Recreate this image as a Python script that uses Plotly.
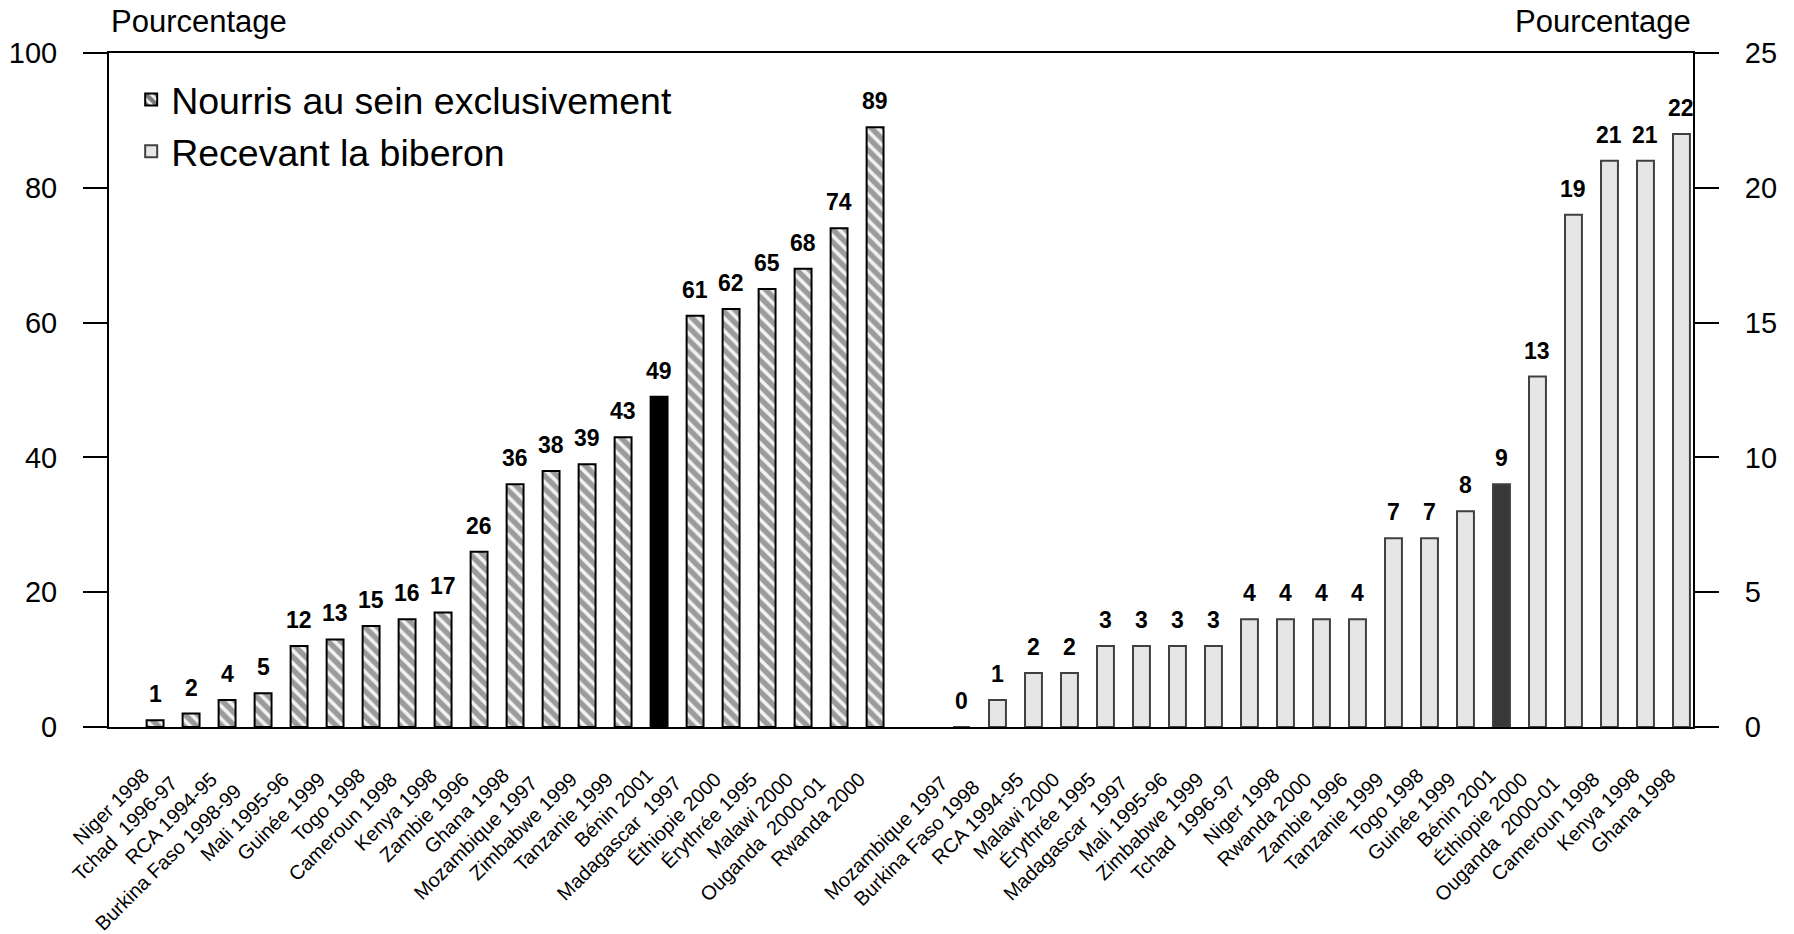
import plotly.graph_objects as go

# Exclusive breastfeeding, by survey (left axis, %)
sein_pays = [
    "Niger 1998", "Tchad  1996-97", "RCA 1994-95", "Burkina Faso 1998-99",
    "Mali 1995-96", "Guinée 1999", "Togo 1998", "Cameroun 1998", "Kenya 1998",
    "Zambie 1996", "Ghana 1998", "Mozambique 1997", "Zimbabwe 1999",
    "Tanzanie 1999", "Bénin 2001", "Madagascar  1997", "Éthiopie 2000",
    "Érythrée 1995", "Malawi 2000", "Ouganda  2000-01", "Rwanda 2000",
]
sein_valeurs = [1, 2, 4, 5, 12, 13, 15, 16, 17, 26, 36, 38, 39, 43, 49,
                61, 62, 65, 68, 74, 89]

# Bottle feeding, by survey (right axis, %)
biberon_pays = [
    "Mozambique 1997", "Burkina Faso 1998", "RCA 1994-95", "Malawi 2000",
    "Érythrée 1995", "Madagascar  1997", "Mali 1995-96", "Zimbabwe 1999",
    "Tchad  1996-97", "Niger 1998", "Rwanda 2000", "Zambie 1996",
    "Tanzanie 1999", "Togo 1998", "Guinée 1999", "Bénin 2001",
    "Éthiopie 2000", "Ouganda  2000-01", "Cameroun 1998", "Kenya 1998",
    "Ghana 1998",
]
biberon_valeurs = [0, 1, 2, 2, 3, 3, 3, 3, 4, 4, 4, 4, 7, 7, 8, 9, 13, 19,
                   21, 21, 22]

pays_mis_en_avant = "Bénin 2001"

# Slot positions: the second group starts after a gap
decalage_groupe = 22.4
x_sein = [i for i in range(len(sein_pays))]
x_biberon = [decalage_groupe + j for j in range(len(biberon_pays))]

FONT = "Liberation Sans, Arial, sans-serif"


def etiquette(texte):
    # Slanted labels hang a little lower the longer they are
    return texte + "\u00a0" * round(len(texte) / 3)


sein_fond = ["black" if p == pays_mis_en_avant else "#f2f2f2" for p in sein_pays]
sein_motif = ["" if p == pays_mis_en_avant else "\\" for p in sein_pays]
biberon_fond = ["#383838" if p == pays_mis_en_avant else "#e6e6e6" for p in biberon_pays]

fig = go.Figure()

fig.add_trace(go.Bar(
    x=x_sein, y=sein_valeurs, width=0.47,
    name="Nourris au sein exclusivement",
    marker=dict(
        color=sein_fond,
        line=dict(color="black", width=2),
        pattern=dict(shape=sein_motif, fgcolor="black", size=9, solidity=0.6),
    ),
    yaxis="y",
))

fig.add_trace(go.Bar(
    x=x_biberon, y=biberon_valeurs, width=0.47,
    name="Recevant la biberon",
    marker=dict(color=biberon_fond, line=dict(color="#404040", width=2)),
    yaxis="y2",
))

annotations = []
for x, v in zip(x_sein, sein_valeurs):
    annotations.append(dict(
        x=x, y=v, xref="x", yref="y", text=f"<b>{v}</b>", showarrow=False,
        yanchor="middle", yshift=26, font=dict(family=FONT, size=23, color="black"),
    ))
for x, v in zip(x_biberon, biberon_valeurs):
    annotations.append(dict(
        x=x, y=v, xref="x", yref="y2", text=f"<b>{v}</b>", showarrow=False,
        yanchor="middle", yshift=26, font=dict(family=FONT, size=23, color="black"),
    ))
annotations.append(dict(
    x=0, y=1, xref="paper", yref="paper", text="Pourcentage", showarrow=False,
    xanchor="left", yanchor="middle", yshift=32,
    font=dict(family=FONT, size=31, color="black"),
))
annotations.append(dict(
    x=1, y=1, xref="paper", yref="paper", text="Pourcentage", showarrow=False,
    xanchor="right", yanchor="middle", yshift=32,
    font=dict(family=FONT, size=31, color="black"),
))

axe_y = dict(
    showgrid=False, zeroline=False, showline=True, linecolor="black", linewidth=2,
    ticks="outside", ticklen=24, tickwidth=2, tickcolor="black", automargin=False,
    tickfont=dict(family=FONT, size=29, color="black"), ticklabelstandoff=20,
)

fig.update_layout(
    width=1794, height=934,
    margin=dict(l=109, r=101, t=53, b=207),
    paper_bgcolor="white", plot_bgcolor="white",
    barmode="overlay",
    showlegend=True,
    legend=dict(
        x=0.014, y=0.977, xanchor="left", yanchor="top",
        font=dict(family=FONT, size=37.5, color="black"),
        bgcolor="rgba(0,0,0,0)", tracegroupgap=0,
    ),
    xaxis=dict(
        range=[-1.28, 42.72], showgrid=False, zeroline=False, automargin=False,
        showline=True, linecolor="black", linewidth=2, mirror=True,
        ticks="", tickvals=x_sein + x_biberon,
        ticktext=[etiquette(p) for p in sein_pays + biberon_pays],
        tickangle=-45, tickfont=dict(family=FONT, size=20, color="black"),
        ticklabelstandoff=15,
    ),
    yaxis=dict(range=[0, 100], tickvals=[0, 20, 40, 60, 80, 100], **axe_y),
    yaxis2=dict(range=[0, 25], tickvals=[0, 5, 10, 15, 20, 25],
                overlaying="y", side="right", **axe_y),
    annotations=annotations,
)

fig.write_html("out.html")
